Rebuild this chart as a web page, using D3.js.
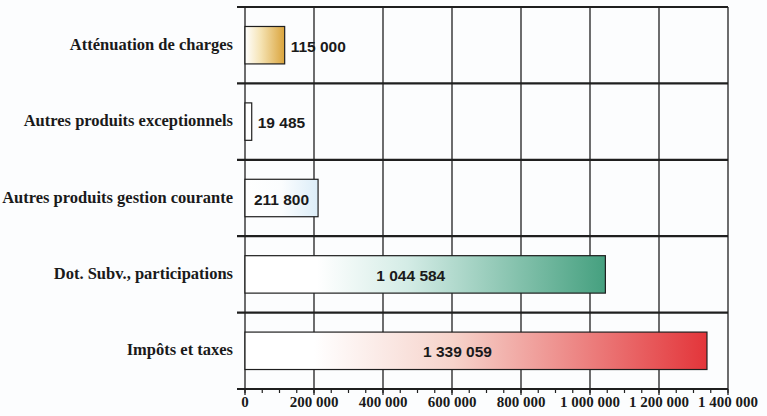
<!DOCTYPE html>
<html>
<head>
<meta charset="utf-8">
<script src="https://cdn.jsdelivr.net/npm/d3@7"></script>
<style>
  html, body { margin: 0; padding: 0; background: #fcfdfe; }
  svg { display: block; }
</style>
</head>
<body>
<div id="chart"></div>
<script>
const categories = [
  'Atténuation de charges',
  'Autres produits exceptionnels',
  'Autres produits gestion courante',
  'Dot. Subv., participations',
  'Impôts et taxes',
]
const values = [115000, 19485, 211800, 1044584, 1339059]
const tickValues = [0, 200000, 400000, 600000, 800000, 1000000, 1200000, 1400000]
const minorTickValues = d3.range(0, 1400001, 50000)

// bar colour ramps (white -> end colour) and where the value label goes
const barStops = [
  [[0, '#ffffff'], [0.4, '#f5e3b3'], [1, '#daa43c']],
  [[0, '#ffffff'], [1, '#ffffff']],
  [[0, '#ffffff'], [0.5, '#fbfdfe'], [1, '#dcedf8']],
  [[0, '#ffffff'], [0.2, '#ffffff'], [0.45, '#d4ece6'], [1, '#45a07f']],
  [[0, '#ffffff'], [0.15, '#ffffff'], [0.45, '#f6d3cb'], [1, '#e3353a']],
]
const labelMode = ['out', 'out', 'mid', 'in', 'in']

const width = 767
const height = 416
const margin = { top: 7, right: 40, bottom: 27, left: 245 }

const fr = d3.formatLocale({ decimal: ',', thousands: ' ', grouping: [3], currency: ['', ' €'] })
const fmt = fr.format(',d')

const svg = d3.select('#chart')
  .append('svg')
  .attr('width', width)
  .attr('height', height)

const defs = svg.append('defs')
barStops.forEach((stops, i) => {
  const grad = defs.append('linearGradient')
    .attr('id', `grad${i}`)
    .attr('x1', '0').attr('x2', '1').attr('y1', '0').attr('y2', '0')
  stops.forEach(([o, c]) => grad.append('stop').attr('offset', o).attr('stop-color', c))
})

const x = d3.scaleLinear()
  .domain([0, 1400000])
  .range([margin.left, width - margin.right + 1])

const y = d3.scaleBand()
  .domain(categories)
  .range([margin.top, height - margin.bottom])
  .padding(0)

const barH = y.bandwidth() * 0.49
const ink = '#1f1f1f'

// Vertical grid
svg.append('g')
  .selectAll('line')
  .data(tickValues)
  .join('line')
  .attr('x1', d => x(d)).attr('x2', d => x(d))
  .attr('y1', margin.top).attr('y2', height - margin.bottom + 6)
  .attr('stroke', ink)
  .attr('stroke-width', 1.3)

// Row separators (top border + between rows + bottom axis)
const rowEdges = categories.map(c => y(c)).concat([y.range()[1]])
svg.append('g')
  .selectAll('line')
  .data(rowEdges)
  .join('line')
  .attr('x1', margin.left - 8).attr('x2', x(1400000))
  .attr('y1', d => d).attr('y2', d => d)
  .attr('stroke', ink)
  .attr('stroke-width', 2.2)

// Minor ticks on the x axis
svg.append('g')
  .selectAll('line')
  .data(minorTickValues)
  .join('line')
  .attr('x1', d => x(d)).attr('x2', d => x(d))
  .attr('y1', height - margin.bottom).attr('y2', height - margin.bottom + 4)
  .attr('stroke', ink)
  .attr('stroke-width', 1.2)

// Axis labels
svg.append('g')
  .selectAll('text')
  .data(tickValues)
  .join('text')
  .attr('x', d => x(d))
  .attr('y', height - 9)
  .attr('text-anchor', 'middle')
  .attr('font-family', '"Liberation Serif", "DejaVu Serif", serif')
  .attr('font-weight', 'bold')
  .attr('font-size', '15px')
  .attr('fill', '#1a1a1a')
  .text(d => fmt(d))

// Category labels
svg.append('g')
  .selectAll('text')
  .data(categories)
  .join('text')
  .attr('x', margin.left - 12)
  .attr('y', d => y(d) + y.bandwidth() / 2 - 1)
  .attr('dominant-baseline', 'central')
  .attr('text-anchor', 'end')
  .attr('font-family', '"Liberation Serif", "DejaVu Serif", serif')
  .attr('font-weight', 'bold')
  .attr('font-size', '16.5px')
  .attr('fill', '#1a1a1a')
  .text(d => d)

// Bars
const rows = categories.map((c, i) => ({ cat: c, value: values[i], i }))
svg.append('g')
  .selectAll('rect')
  .data(rows)
  .join('rect')
  .attr('x', x(0))
  .attr('y', d => y(d.cat) + (y.bandwidth() - barH) / 2)
  .attr('width', d => x(d.value) - x(0))
  .attr('height', barH)
  .attr('fill', d => `url(#grad${d.i})`)
  .attr('stroke', ink)
  .attr('stroke-width', 1.2)

// Value labels
svg.append('g')
  .selectAll('text')
  .data(rows)
  .join('text')
  .attr('x', d => {
    const mode = labelMode[d.i]
    if (mode === 'out') return x(d.value) + 6
    if (mode === 'mid') return (x(0) + x(d.value)) / 2
    return x(0) + (x(d.value) - x(0)) * 0.46
  })
  .attr('y', d => y(d.cat) + y.bandwidth() / 2 + 1)
  .attr('dominant-baseline', 'central')
  .attr('text-anchor', d => labelMode[d.i] === 'out' ? 'start' : 'middle')
  .attr('font-family', '"Liberation Sans", Arial, sans-serif')
  .attr('font-weight', 'bold')
  .attr('font-size', '15.5px')
  .attr('fill', '#1a1a1a')
  .text(d => fmt(d.value))
</script>
</body>
</html>
